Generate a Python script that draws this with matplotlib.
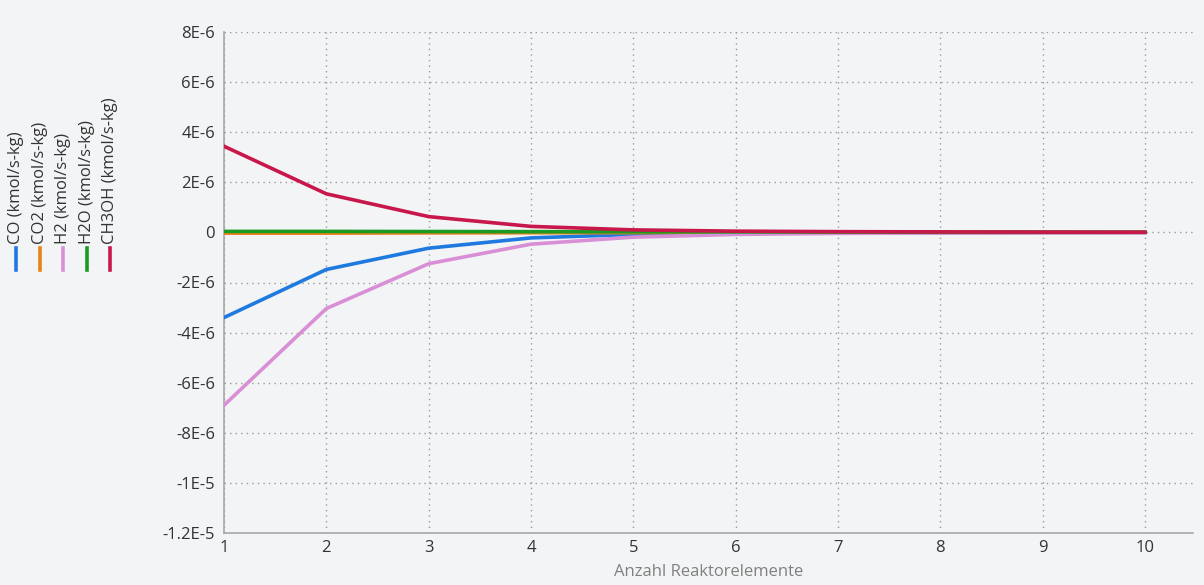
import matplotlib
matplotlib.use("Agg")
import matplotlib.pyplot as plt
from matplotlib.lines import Line2D

plt.rcParams['font.family'] = ['Open Sans', 'DejaVu Sans']

x = [1, 2, 3, 4, 5, 6, 7, 8, 9, 10]
co = [-3.4e-6, -1.48e-6, -0.63e-6, -0.22e-6, -0.08e-6, -0.035e-6, -0.02e-6, -0.01e-6, -0.006e-6, -0.004e-6]
co2 = [-0.03e-6, -0.03e-6, -0.02e-6, -0.015e-6, -0.01e-6, -0.008e-6, -0.006e-6, -0.004e-6, -0.003e-6, -0.002e-6]
h2 = [-6.9e-6, -3.04e-6, -1.25e-6, -0.47e-6, -0.19e-6, -0.08e-6, -0.04e-6, -0.02e-6, -0.012e-6, -0.008e-6]
h2o = [0.04e-6, 0.04e-6, 0.035e-6, 0.03e-6, 0.025e-6, 0.02e-6, 0.015e-6, 0.012e-6, 0.01e-6, 0.008e-6]
ch3oh = [3.44e-6, 1.54e-6, 0.63e-6, 0.24e-6, 0.1e-6, 0.05e-6, 0.03e-6, 0.02e-6, 0.012e-6, 0.008e-6]

series_names = ["CO (kmol/s-kg)", "CO2 (kmol/s-kg)", "H2 (kmol/s-kg)", "H2O (kmol/s-kg)", "CH3OH (kmol/s-kg)"]
series_colors = ["#1f7ae0", "#e8821a", "#d98fd6", "#1a9a22", "#c8174a"]

yticks = [8e-6, 6e-6, 4e-6, 2e-6, 0, -2e-6, -4e-6, -6e-6, -8e-6, -1e-5, -1.2e-5]
ytick_labels = ["8E-6", "6E-6", "4E-6", "2E-6", "0", "-2E-6", "-4E-6", "-6E-6", "-8E-6", "-1E-5", "-1.2E-5"]
xlabel = "Anzahl Reaktorelemente"

bg = "#f3f4f6"
W, H = 1204, 585
fig = plt.figure(figsize=(W / 100, H / 100), dpi=100, facecolor=bg)
left, right, top, bottom = 224, 1193, 32, 533
ax = fig.add_axes([left / W, 1 - bottom / H, (right - left) / W, (bottom - top) / H])
ax.set_facecolor(bg)

data = [co, co2, h2, h2o, ch3oh]
order = [2, 0, 1, 3, 4]
for i in order:
    ax.plot(x, data[i], color=series_colors[i], lw=2.6, solid_joinstyle='round', zorder=3 + i)

ax.set_xlim(1, 10.47)
ax.set_ylim(-1.2e-5, 8e-6)
ax.set_xticks(x)
ax.set_xticklabels([str(v) for v in x])
ax.set_yticks(yticks)
ax.set_yticklabels(ytick_labels)
ax.tick_params(length=0, labelsize=12, colors="#333333")
ax.tick_params(axis='y', pad=6.5)
ax.tick_params(axis='x', pad=5)
ax.grid(True, color="#9a9a9a", linestyle=(0, (1, 3)), lw=1)
for s in ["top", "right"]:
    ax.spines[s].set_visible(False)
for s in ["left", "bottom"]:
    ax.spines[s].set_color("#a8a8a8")
    ax.spines[s].set_linewidth(1.2)
ax.set_xlabel(xlabel, color="#808080", fontsize=12, labelpad=6)

leg_x = [16, 40, 63, 87, 110]
for xi, name, col in zip(leg_x, series_names, series_colors):
    fig.text(xi / W, 1 - 244 / H, name, rotation=90, ha='center', va='bottom',
             fontsize=12, color="#333333")
    fig.add_artist(Line2D([xi / W, xi / W], [1 - 248 / H, 1 - 270 / H], color=col, lw=2.6,
                          transform=fig.transFigure))

fig.savefig("out.png", dpi=100, facecolor=bg)
